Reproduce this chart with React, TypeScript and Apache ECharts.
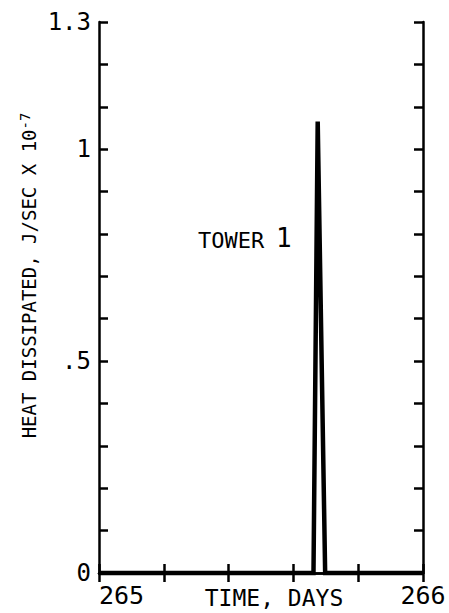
import React, { useEffect, useRef } from "react";
import * as echarts from "echarts";

// Data
const timeDays: number[] = [265, 265.662, 265.675, 265.698, 266];
const heatDissipated: number[] = [0, 0, 1.065, 0, 0];
const xTickLabels: Record<string, string> = { "265": "265", "266": "266" };
const yTickLabels: Record<number, string> = { 0: "0", 5: ".5", 10: "1", 13: "1.3" };
const towerLabel = "TOWER";
const towerNumber = "1";

const FONT = "DejaVu Sans Mono";

export default function App() {
  const ref = useRef<HTMLDivElement>(null);
  useEffect(() => {
    if (!ref.current) return;
    const chart = echarts.init(ref.current, null, { renderer: "svg" });
    const data = timeDays.map((t, i) => [t, heatDissipated[i]]);
    const axisLine = { show: true, lineStyle: { color: "#000", width: 2.5 } };
    const tick = { show: true, inside: true, length: 9, lineStyle: { color: "#000", width: 2.5 } };
    const xFmt = (v: number) => {
      const k = String(Math.round(v));
      return Math.abs(v - Math.round(v)) < 1e-6 && xTickLabels[k] ? xTickLabels[k] : "";
    };
    const yFmt = (v: number) => yTickLabels[Math.round(v * 10)] ?? "";
    chart.setOption({
      animation: false,
      backgroundColor: "#fff",
      grid: { left: 99, right: 26, top: 22, bottom: 40, containLabel: false, outerBoundsMode: "none" },
      xAxis: [
        {
          type: "value",
          min: 265,
          max: 266,
          interval: 0.2,
          position: "bottom",
          axisLine,
          axisTick: tick,
          splitLine: { show: false },
          axisLabel: {
            formatter: xFmt,
            color: "#000",
            fontFamily: FONT,
            fontSize: 25,
            margin: 10,
            alignMinLabel: "left",
            alignMaxLabel: "center",
            showMinLabel: true,
            showMaxLabel: true,
          },
          name: "TIME, DAYS",
          nameLocation: "middle",
          nameGap: 13,
          nameMoveOverlap: false,
          nameTextStyle: {
            color: "#000",
            fontFamily: FONT,
            fontSize: 23,
            padding: [0, 0, 0, 26],
            verticalAlign: "top",
          },
        },
        {
          type: "value",
          min: 265,
          max: 266,
          interval: 0.2,
          position: "top",
          axisLine,
          axisTick: tick,
          splitLine: { show: false },
          axisLabel: { show: false },
        },
      ],
      yAxis: [
        {
          type: "value",
          min: 0,
          max: 1.3,
          interval: 0.1,
          position: "left",
          axisLine,
          axisTick: tick,
          splitLine: { show: false },
          axisLabel: {
            formatter: yFmt,
            color: "#000",
            fontFamily: FONT,
            fontSize: 24,
            margin: 8,
            showMinLabel: true,
            showMaxLabel: true,
          },
          name: "HEAT DISSIPATED, J/SEC X 10{sup|-7}",
          nameLocation: "middle",
          nameGap: 59,
          nameRotate: 90,
          nameMoveOverlap: false,
          nameTextStyle: {
            color: "#000",
            fontFamily: FONT,
            fontSize: 19,
            padding: [0, 0, 0, 44],
            rich: {
              sup: { fontFamily: FONT, fontSize: 14, verticalAlign: "top", padding: [0, 0, 8, 0], color: "#000" },
            },
          },
        },
        {
          type: "value",
          min: 0,
          max: 1.3,
          interval: 0.1,
          position: "right",
          axisLine,
          axisTick: tick,
          splitLine: { show: false },
          axisLabel: { show: false },
        },
      ],
      series: [
        {
          type: "line",
          data,
          xAxisIndex: 0,
          yAxisIndex: 0,
          symbol: "none",
          clip: false,
          lineStyle: { color: "#000", width: 4.5, join: "miter" },
        },
      ],
      graphic: [
        {
          type: "text",
          left: 198,
          top: 229,
          style: { text: towerLabel, fontFamily: FONT, fontSize: 22, fill: "#000" },
        },
        {
          type: "text",
          left: 276,
          top: 225,
          style: { text: towerNumber, fontFamily: FONT, fontSize: 26, fill: "#000" },
        },
      ],
    });
    return () => chart.dispose();
  }, []);
  return (
    <div
      ref={ref}
      style={{ position: "fixed", left: 0, top: 0, width: 449, height: 613, background: "#fff" }}
    />
  );
}
